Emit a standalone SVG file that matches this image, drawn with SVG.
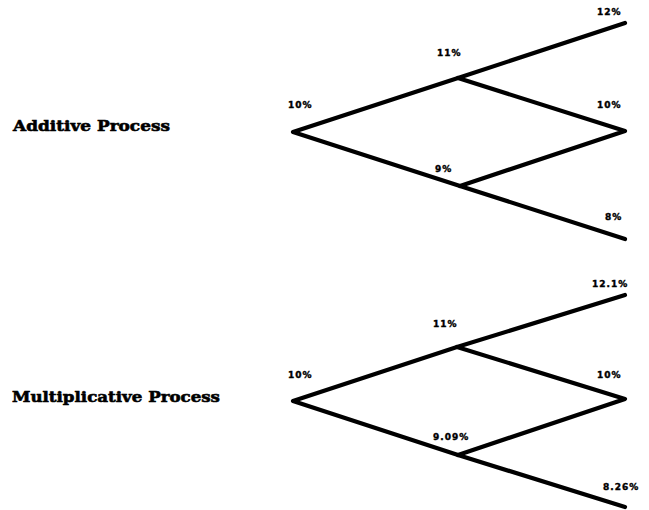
<svg xmlns="http://www.w3.org/2000/svg" width="649" height="510" viewBox="0 0 649 510">
<style>
.edge{stroke:#000;stroke-width:4.2;fill:none;stroke-linecap:round;stroke-linejoin:round}
.v{font-family:"DejaVu Sans","Liberation Sans",sans-serif;font-weight:bold;font-size:9px;letter-spacing:1px;fill:#000;stroke:#000;stroke-width:0.4}
.t{font-family:"DejaVu Serif","Liberation Serif",serif;font-weight:bold;font-size:15.5px;fill:#000;stroke:#000;stroke-width:0.6}
</style>
<rect width="649" height="510" fill="#fff"/>
<g id="connectors">
<polyline class="edge" points="625,23 458,78 293,132 460,186 625,239"/>
<polyline class="edge" points="458,78 625,131 460,186"/>
<polyline class="edge" points="625,295 457,347 293,401 458,455 625,507"/>
<polyline class="edge" points="457,347 625,399 458,455"/>
</g>
<g id="title-additive"><text class="t" x="13" y="131" textLength="157" lengthAdjust="spacingAndGlyphs">Additive Process</text></g>
<g id="title-multiplicative"><text class="t" x="12" y="402" textLength="208" lengthAdjust="spacingAndGlyphs">Multiplicative Process</text></g>
<g id="a-root"><text class="v" x="288" y="108">10%</text></g>
<g id="a-up"><text class="v" x="437" y="56">11%</text></g>
<g id="a-down"><text class="v" x="435" y="172">9%</text></g>
<g id="a-uu"><text class="v" x="597" y="15">12%</text></g>
<g id="a-ud"><text class="v" x="597" y="108">10%</text></g>
<g id="a-dd"><text class="v" x="605" y="220">8%</text></g>
<g id="m-root"><text class="v" x="288" y="378">10%</text></g>
<g id="m-up"><text class="v" x="433" y="327">11%</text></g>
<g id="m-down"><text class="v" x="433" y="440">9.09%</text></g>
<g id="m-uu"><text class="v" x="592" y="287">12.1%</text></g>
<g id="m-ud"><text class="v" x="597" y="378">10%</text></g>
<g id="m-dd"><text class="v" x="603" y="490">8.26%</text></g>
</svg>
